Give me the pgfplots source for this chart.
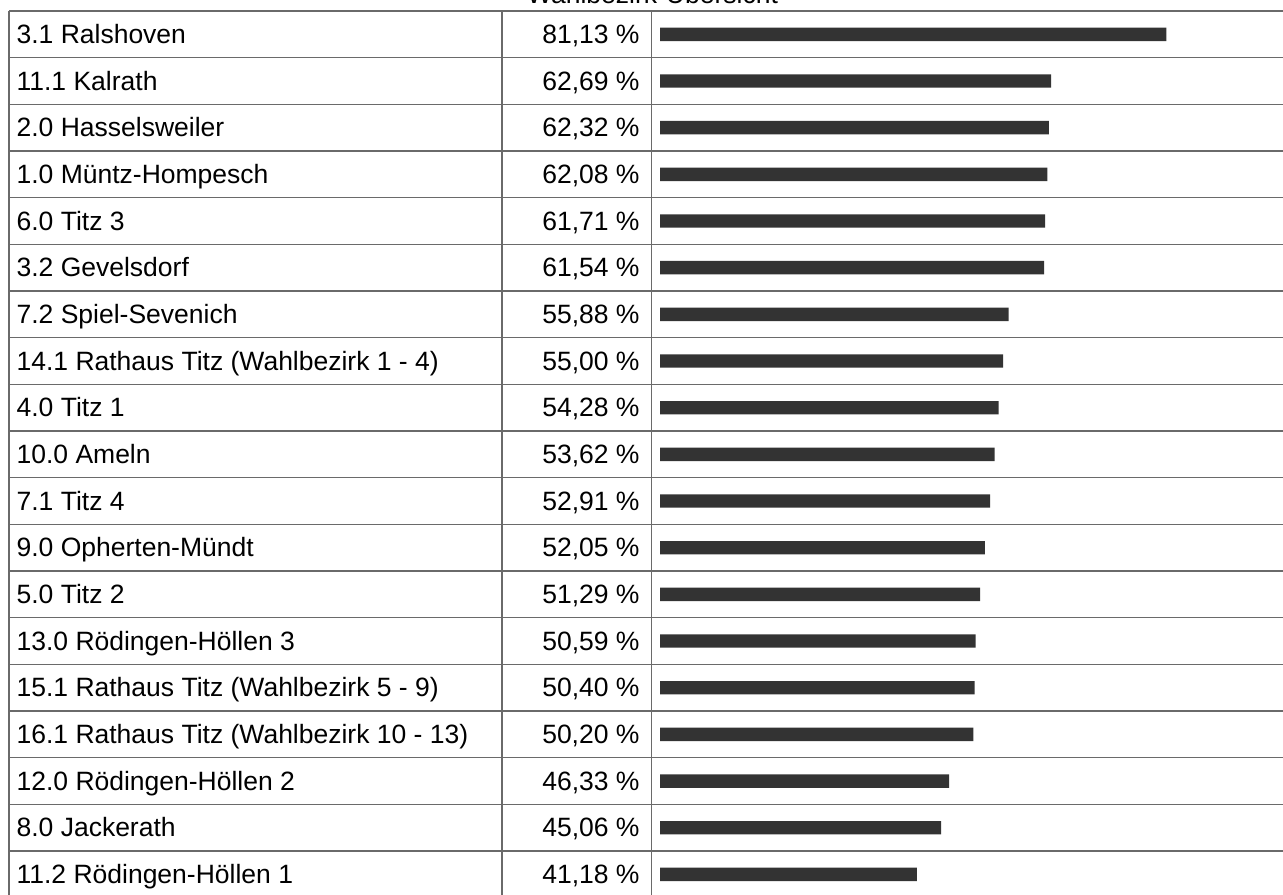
\documentclass[border=0pt]{standalone}
\usepackage{pgfplots}
\pgfplotsset{compat=1.18}
\usepackage{fontspec}
\setmainfont{Liberation Sans}
\definecolor{barc}{HTML}{333333}
\definecolor{linec}{HTML}{6A6A6A}
\newcommand\lbl[2]{\makebox[242pt][l]{#1}\makebox[69.5pt][r]{#2~\%}}
\begin{document}
\begin{tikzpicture}
\node[anchor=base, font=\fontsize{13.25}{15}\selectfont, inner sep=0pt] at (326.25pt,-1.9pt) {Wahlbezirk-Übersicht};
\begin{axis}[
  at={(325.85pt,-5.5pt)}, anchor=north west,
  scale only axis, width=315.65pt, height=443.35pt,
  xmin=-1.33, xmax=99.84, ymin=-0.5, ymax=18.5,
  y dir=reverse,
  xbar, bar width=6.7pt,
  axis line style={draw=none},
  tick style={draw=none},
  major tick length=0pt,
  xtick=\empty,
  ytick={0,...,18},
  yticklabels={
    {\lbl{3.1 Ralshoven}{81,13}},
    {\lbl{11.1 Kalrath}{62,69}},
    {\lbl{2.0 Hasselsweiler}{62,32}},
    {\lbl{1.0 Müntz-Hompesch}{62,08}},
    {\lbl{6.0 Titz 3}{61,71}},
    {\lbl{3.2 Gevelsdorf}{61,54}},
    {\lbl{7.2 Spiel-Sevenich}{55,88}},
    {\lbl{14.1 Rathaus Titz (Wahlbezirk 1 - 4)}{55,00}},
    {\lbl{4.0 Titz 1}{54,28}},
    {\lbl{10.0 Ameln}{53,62}},
    {\lbl{7.1 Titz 4}{52,91}},
    {\lbl{9.0 Opherten-Mündt}{52,05}},
    {\lbl{5.0 Titz 2}{51,29}},
    {\lbl{13.0 Rödingen-Höllen 3}{50,59}},
    {\lbl{15.1 Rathaus Titz (Wahlbezirk 5 - 9)}{50,40}},
    {\lbl{16.1 Rathaus Titz (Wahlbezirk 10 - 13)}{50,20}},
    {\lbl{12.0 Rödingen-Höllen 2}{46,33}},
    {\lbl{8.0 Jackerath}{45,06}},
    {\lbl{11.2 Rödingen-Höllen 1}{41,18}}
  },
  yticklabel style={anchor=base east, inner sep=0pt, xshift=-5.85pt, yshift=-4.5pt,
    font=\fontsize{13.25}{15}\selectfont, text=black},
]
\addplot[fill=barc, draw=none] coordinates {
  (81.13,0) (62.69,1) (62.32,2) (62.08,3) (61.71,4) (61.54,5)
  (55.88,6) (55.00,7) (54.28,8) (53.62,9) (52.91,10) (52.05,11)
  (51.29,12) (50.59,13) (50.40,14) (50.20,15) (46.33,16) (45.06,17)
  (41.18,18)
};
\end{axis}
\foreach \k in {0,...,19} {
  \draw[linec, line width=0.8pt] (4.5pt,{-5.5pt-\k*23.333pt}) -- (642pt,{-5.5pt-\k*23.333pt});
}
\foreach \xx in {4.5pt,250.85pt,325.75pt} {
  \draw[linec, line width=0.8pt] (\xx,-5.5pt) -- (\xx,-452pt);
}
\pgfresetboundingbox
\useasboundingbox (0pt,0pt) rectangle (641.5pt,-447pt);
\end{tikzpicture}
\end{document}
